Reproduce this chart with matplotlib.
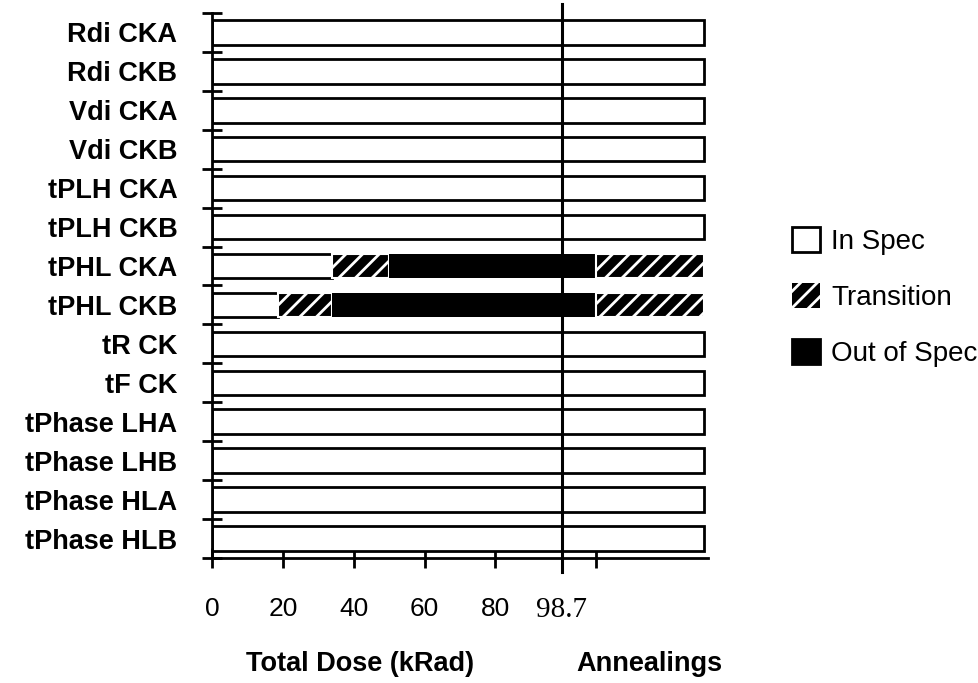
import numpy as np
import matplotlib
matplotlib.use('Agg')
import matplotlib.pyplot as plt
import matplotlib.transforms as mtransforms
from matplotlib.patches import Patch

plt.rcParams['font.family'] = 'Liberation Sans'
plt.rcParams['hatch.linewidth'] = 2.0

# parameters, listed top to bottom
categories = ['Rdi CKA', 'Rdi CKB', 'Vdi CKA', 'Vdi CKB', 'tPLH CKA', 'tPLH CKB',
              'tPHL CKA', 'tPHL CKB', 'tR CK', 'tF CK',
              'tPhase LHA', 'tPhase LHB', 'tPhase HLA', 'tPhase HLB']

# stacked segment widths along the dose / annealing axis (kRad scale)
in_spec = [139, 139, 139, 139, 139, 139, 34, 18.6, 139, 139, 139, 139, 139, 139]
transition = [0, 0, 0, 0, 0, 0, 16, 15.4, 0, 0, 0, 0, 0, 0]
out_of_spec = [0, 0, 0, 0, 0, 0, 58.3, 74.3, 0, 0, 0, 0, 0, 0]
anneal_transition = [0, 0, 0, 0, 0, 0, 30.7, 30.7, 0, 0, 0, 0, 0, 0]

dose_ticks = [0, 20, 40, 60, 80, 98.7]
dose_labels = ['0', '20', '40', '60', '80', '98.7']
final_dose = 98.7
anneal_tick = 108.3
x_max = 140

legend_labels = ['In Spec', 'Transition', 'Out of Spec']

fig = plt.figure(figsize=(9.79, 6.83), dpi=100)
ax = fig.add_axes([0.2166, 0.183, 0.5066, 0.798])

n = len(categories)
y = np.arange(n)
h = 0.63

in_spec = np.array(in_spec, dtype=float)
transition = np.array(transition, dtype=float)
out_of_spec = np.array(out_of_spec, dtype=float)
anneal_transition = np.array(anneal_transition, dtype=float)

ax.barh(y, in_spec, height=h, color='white', edgecolor='black', linewidth=2, zorder=2)

left = in_spec.copy()
m = transition > 0
ax.barh(y[m], transition[m], left=left[m], height=h, color='black',
        edgecolor='white', hatch='//', linewidth=1.5, zorder=2)
left += transition
m = out_of_spec > 0
ax.barh(y[m], out_of_spec[m], left=left[m], height=h, color='black',
        edgecolor='black', linewidth=0, zorder=2)
left += out_of_spec
m = anneal_transition > 0
ax.barh(y[m], anneal_transition[m], left=left[m], height=h, color='black',
        edgecolor='white', hatch='//', linewidth=1.5, zorder=2)

ax.set_xlim(0, x_max)
ax.set_ylim(n - 0.5, -0.5)

# end of irradiation marker, runs past the frame at both ends
trans = mtransforms.blended_transform_factory(ax.transData, ax.transAxes)
ax.plot([final_dose, final_dose], [-0.026, 1.0165], color='black', lw=2.2,
        transform=trans, clip_on=False, zorder=5)

for s in ['top', 'right']:
    ax.spines[s].set_visible(False)
for s in ['left', 'bottom']:
    ax.spines[s].set_linewidth(2)
ax.spines['left'].set_zorder(6)

# category boundaries as major ticks, names on minor ticks
ax.set_yticks(np.arange(n + 1) - 0.5)
ax.set_yticklabels([])
ax.set_yticks(y, minor=True)
ax.set_yticklabels(categories, minor=True, fontsize=19.5, fontweight='bold')
ax.tick_params(axis='y', which='major', direction='inout', length=14, width=2)
ax.tick_params(axis='y', which='minor', length=0, pad=25)

ax.set_xticks(dose_ticks + [anneal_tick])
ax.set_xticklabels(dose_labels + [''], fontsize=19)
lbl = ax.get_xticklabels()[5]
lbl.set_fontfamily('Liberation Serif')
lbl.set_fontsize(21)
ax.tick_params(axis='x', direction='inout', length=14, width=2, pad=21)

ax.text(41.7, -0.1945, 'Total Dose (kRad)', transform=trans, ha='center', va='center',
        fontsize=19.5, fontweight='bold')
ax.text(123.5, -0.1945, 'Annealings', transform=trans, ha='center', va='center',
        fontsize=19.5, fontweight='bold')

handles = [Patch(facecolor='white', edgecolor='black', linewidth=2),
           Patch(facecolor='black', edgecolor='white', hatch='//', linewidth=0),
           Patch(facecolor='black', edgecolor='black', linewidth=2)]
fig.legend(handles, legend_labels, loc='center left', bbox_to_anchor=(0.809, 0.565),
           frameon=False, fontsize=20, handlelength=1.0, handleheight=1.0,
           handletextpad=0.4, labelspacing=1.02, borderpad=0, borderaxespad=0)

fig.savefig('out.png', dpi=100)
